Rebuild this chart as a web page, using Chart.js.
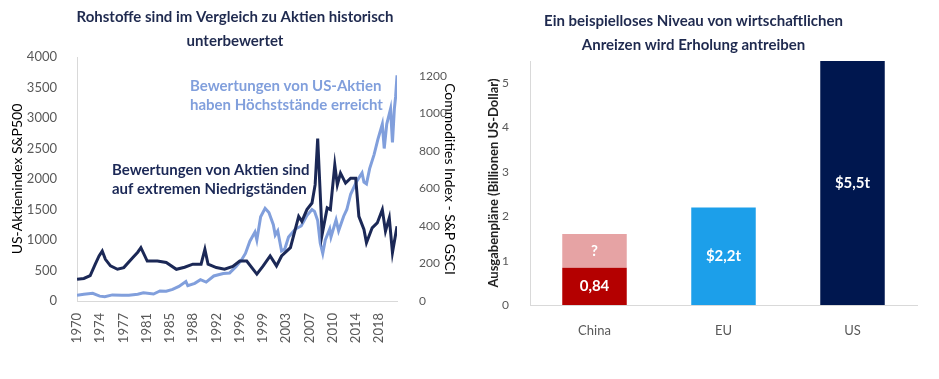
<!DOCTYPE html>
<html>
<head>
<meta charset="utf-8">
<script src="https://cdn.jsdelivr.net/npm/chart.js@4.4.0/dist/chart.umd.min.js"></script>
<style>
  body { margin: 0; background: #fff; }
  #wrap { position: relative; width: 939px; height: 379px; }
  canvas { position: absolute; top: 0; }
  #left { left: 0; }
  #right { left: 470px; }
</style>
</head>
<body>
<div id="wrap">
  <canvas id="left" width="470" height="379"></canvas>
  <canvas id="right" width="469" height="379"></canvas>
</div>
<script>
// S&P 500 (left axis), decimal years
const spxYears = [1970.42, 1971.5, 1972.9, 1974.0, 1974.8, 1976.0, 1977.5, 1978.6, 1980.0, 1980.9,
  1982.5, 1983.5, 1984.5, 1985.5, 1986.5, 1987.6, 1987.9, 1989.0, 1989.9, 1990.8,
  1992.0, 1993.5, 1994.5, 1995.5, 1996.3, 1997.0, 1997.7, 1998.5, 1998.8, 1999.4,
  2000.1, 2000.7, 2001.4, 2001.7, 2002.1, 2002.7, 2003.2, 2003.8, 2004.9, 2005.8,
  2006.7, 2007.5, 2007.9, 2008.4, 2008.8, 2009.2, 2009.6, 2010.3, 2010.5, 2011.3,
  2011.7, 2012.5, 2013.0, 2013.6, 2014.5, 2015.4, 2015.7, 2016.1, 2016.6, 2017.3,
  2017.9, 2018.6, 2018.9, 2019.3, 2019.9, 2020.2, 2020.5, 2020.7, 2020.92];
const spxValues = [95, 110, 125, 80, 70, 100, 95, 95, 110, 135,
  115, 165, 160, 190, 240, 320, 250, 290, 350, 310,
  410, 450, 460, 560, 660, 780, 980, 1130, 1000, 1380,
  1520, 1450, 1250, 1080, 1150, 820, 850, 1050, 1180, 1230,
  1400, 1500, 1470, 1320, 950, 780, 1000, 1180, 1050, 1330,
  1150, 1390, 1500, 1750, 1950, 2100, 1950, 1920, 2170, 2400,
  2650, 2900, 2500, 2900, 3150, 2600, 3150, 3350, 3700];

// S&P GSCI (right axis)
const gsciYears = [1970.42, 1971.5, 1972.5, 1973.3, 1973.9, 1974.4, 1974.9, 1975.7, 1976.8, 1977.8,
  1979.2, 1980.0, 1980.5, 1981.5, 1983.1, 1984.5, 1986.1, 1987.4, 1988.7, 1990.0,
  1990.6, 1991.1, 1992.4, 1993.7, 1995.0, 1996.1, 1997.2, 1998.8, 1999.8, 2000.9,
  2001.9, 2002.7, 2004.1, 2005.4, 2005.9, 2006.7, 2007.5, 2008.0, 2008.4, 2009.1,
  2009.9, 2010.4, 2011.1, 2011.5, 2012.0, 2012.8, 2013.6, 2014.4, 2014.9, 2015.7,
  2016.1, 2017.0, 2017.8, 2018.6, 2019.1, 2019.7, 2020.2, 2020.92];
const gsciValues = [116, 120, 135, 196, 240, 266, 222, 187, 169, 178,
  231, 260, 284, 213, 213, 205, 169, 180, 196, 196,
  275, 196, 178, 169, 184, 213, 213, 143, 187, 240,
  187, 240, 284, 451, 425, 487, 522, 620, 866, 354,
  496, 487, 725, 619, 681, 628, 654, 654, 451, 381,
  310, 390, 416, 487, 372, 443, 258, 398];

const xTickLabels = ['1970', '1974', '1977', '1981', '1985', '1988', '1992',
  '1996', '1999', '2003', '2007', '2010', '2014', '2018'];
const firstMonth = 1970 + 5 / 12;
const lastMonth = 2020 + 11 / 12;
const monthsPerLabel = 44;

const spxNote = ['Bewertungen von US-Aktien', 'haben Höchststände erreicht'];
const gsciNote = ['Bewertungen von Aktien sind', 'auf extremen Niedrigständen'];

// Stimulus chart
const regions = ['China', 'EU', 'US'];
const announced = [0.84, 2.2, 5.5];
const chinaTotal = 1.6;
const announcedLabels = ['0,84', '$2,2t', '$5,5t'];
const unknownLabels = ['?', '', ''];

const navy = '#1b2856';
const lightBlue = '#819fdc';
const tickGrey = '#595959';
const axisGrey = '#d9d9d9';
const titleColor = '#1f2a4f';

Chart.defaults.font.family = 'Lato, "Open Sans", sans-serif';
Chart.defaults.animation = false;

const plain = v => String(v);

const notesPlugin = {
    id: 'notes',
    afterDatasetsDraw(chart) {
        const ctx = chart.ctx;
        ctx.save();
        ctx.font = 'bold 15px Lato, sans-serif';
        ctx.textBaseline = 'middle';
        ctx.textAlign = 'left';
        ctx.fillStyle = lightBlue;
        ctx.fillText(spxNote[0], 190, 86);
        ctx.fillText(spxNote[1], 190, 105);
        ctx.fillStyle = navy;
        ctx.fillText(gsciNote[0], 112, 170);
        ctx.fillText(gsciNote[1], 112, 189);
        ctx.restore();
    }
};

new Chart(document.getElementById('left'), {
    type: 'line',
    data: {
        datasets: [
            {
                label: 'S&P GSCI',
                data: gsciYears.map((t, i) => ({ x: t, y: gsciValues[i] })),
                borderColor: navy,
                borderWidth: 3,
                pointRadius: 0,
                yAxisID: 'y2',
            },
            {
                label: 'S&P 500',
                data: spxYears.map((t, i) => ({ x: t, y: spxValues[i] })),
                borderColor: lightBlue,
                borderWidth: 3,
                pointRadius: 0,
                yAxisID: 'y',
            }
        ]
    },
    options: {
        responsive: false,
        layout: { padding: 0 },
        plugins: {
            legend: { display: false },
            tooltip: { enabled: false },
            title: {
                display: true,
                text: ['Rohstoffe sind im Vergleich zu Aktien historisch', 'unterbewertet'],
                color: titleColor,
                font: { size: 15, weight: 'bold', lineHeight: 1.6 },
                padding: { top: 5, bottom: 4 },
            }
        },
        scales: {
            x: {
                type: 'linear',
                min: firstMonth,
                max: lastMonth,
                grid: { display: false },
                border: { display: true, color: axisGrey },
                afterBuildTicks: scale => {
                    scale.ticks = xTickLabels.map((l, i) => ({ value: firstMonth + i * monthsPerLabel / 12 }));
                },
                afterFit: scale => { scale.height = 78; },
                ticks: {
                    autoSkip: false,
                    minRotation: 90,
                    maxRotation: 90,
                    padding: 4,
                    color: tickGrey,
                    font: { size: 13 },
                    callback: (v, i) => xTickLabels[i],
                }
            },
            y: {
                position: 'left',
                min: 0,
                max: 4000,
                grid: { display: false },
                border: { display: true, color: axisGrey },
                afterFit: scale => { scale.width = 77; },
                ticks: { stepSize: 500, padding: 12, color: tickGrey, font: { size: 13 }, callback: plain },
                title: {
                    display: true,
                    text: 'US-Aktienindex S&P500',
                    color: '#000',
                    font: { size: 14 },
                    padding: { top: 9, bottom: 0 },
                }
            },
            y2: {
                position: 'right',
                min: 0,
                max: 1300,
                grid: { display: false },
                border: { display: false },
                afterFit: scale => { scale.width = 73; },
                ticks: { stepSize: 200, includeBounds: false, padding: 14, color: tickGrey, font: { size: 12 }, callback: plain },
                title: {
                    display: true,
                    text: 'Commodities Index - S&P GSCI',
                    color: '#000',
                    font: { size: 14 },
                    padding: { top: 12, bottom: 0 },
                }
            }
        }
    },
    plugins: [notesPlugin]
});

const barLabels = {
    id: 'barLabels',
    afterDatasetsDraw(chart) {
        const ctx = chart.ctx;
        ctx.save();
        ctx.font = 'bold 15px Lato, sans-serif';
        ctx.fillStyle = '#ffffff';
        ctx.textAlign = 'center';
        ctx.textBaseline = 'middle';
        chart.data.datasets.forEach((ds, di) => {
            chart.getDatasetMeta(di).data.forEach((bar, i) => {
                const txt = ds.valueLabels[i];
                if (!txt) return;
                ctx.fillText(txt, bar.x, (bar.y + bar.base) / 2);
            });
        });
        ctx.restore();
    }
};

new Chart(document.getElementById('right'), {
    type: 'bar',
    data: {
        labels: regions,
        datasets: [
            {
                label: 'Angekündigt',
                data: announced,
                valueLabels: announcedLabels,
                backgroundColor: ['#b40000', '#1c9fea', '#00174f'],
                barPercentage: 1,
                categoryPercentage: 0.5,
            },
            {
                label: 'Unbekannt',
                data: [chinaTotal - announced[0], 0, 0],
                valueLabels: unknownLabels,
                backgroundColor: '#e6a3a4',
                barPercentage: 1,
                categoryPercentage: 0.5,
            }
        ]
    },
    options: {
        responsive: false,
        layout: { padding: { top: 4, right: 22, left: 0, bottom: 0 } },
        plugins: {
            legend: { display: false },
            tooltip: { enabled: false },
            title: {
                display: true,
                text: ['Ein beispielloses Niveau von wirtschaftlichen', 'Anreizen wird Erholung antreiben'],
                color: titleColor,
                font: { size: 15, weight: 'bold', lineHeight: 1.6 },
                padding: { top: 5, bottom: 4 },
            }
        },
        scales: {
            x: {
                stacked: true,
                grid: { display: false },
                border: { display: true, color: axisGrey },
                afterFit: scale => { scale.height = 74; },
                ticks: { padding: 10, color: tickGrey, font: { size: 13 } },
            },
            y: {
                stacked: true,
                min: 0,
                max: 5.5,
                grid: { display: false },
                border: { display: true, color: axisGrey },
                afterFit: scale => { scale.width = 60; },
                ticks: { stepSize: 1, includeBounds: false, padding: 13, color: tickGrey, font: { size: 12 } },
                title: {
                    display: true,
                    text: 'Ausgabenpläne (Billionen US-Dollar)',
                    color: '#222',
                    font: { size: 13, weight: 'bold' },
                    padding: { top: 16, bottom: 0 },
                }
            }
        }
    },
    plugins: [barLabels]
});
</script>
</body>
</html>
